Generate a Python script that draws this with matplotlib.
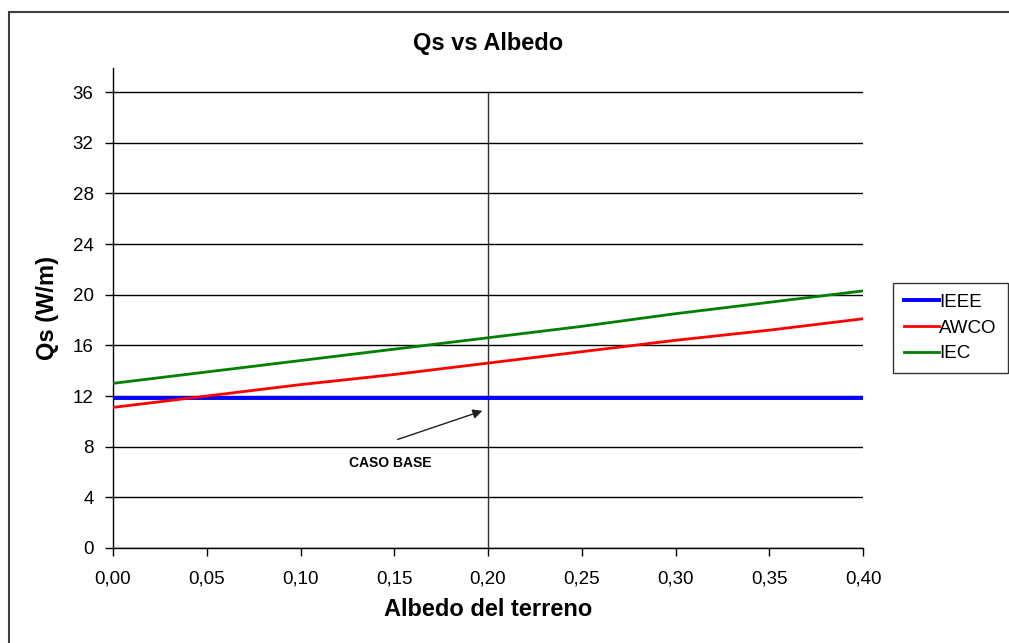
import matplotlib.pyplot as plt
from matplotlib.patches import Rectangle

plt.rcParams['font.family'] = ['Liberation Sans', 'DejaVu Sans']

# Albedo values and heat gain (W/m) for each model
albedo = [0.00, 0.05, 0.10, 0.15, 0.20, 0.25, 0.30, 0.35, 0.40]
qs_ieee = [11.85, 11.85, 11.85, 11.85, 11.85, 11.85, 11.85, 11.85, 11.85]
qs_awco = [11.1, 12.0, 12.9, 13.7, 14.6, 15.5, 16.4, 17.2, 18.1]
qs_iec = [13.0, 13.9, 14.8, 15.7, 16.6, 17.5, 18.5, 19.4, 20.3]

x_ticks = [0.00, 0.05, 0.10, 0.15, 0.20, 0.25, 0.30, 0.35, 0.40]
x_ticklabels = ['0,00', '0,05', '0,10', '0,15', '0,20', '0,25', '0,30', '0,35', '0,40']
y_ticks = [0, 4, 8, 12, 16, 20, 24, 28, 32, 36]

caso_base = 0.20

fig = plt.figure(figsize=(10.09, 6.43), dpi=100)
ax = fig.add_axes([113 / 1009, 1 - 548 / 643, 750 / 1009, 480 / 643])

# chart area border
fig.patches.append(Rectangle((9 / 1009, -0.1), 1.2, 1 - 12 / 643 + 0.1,
                             transform=fig.transFigure, fill=False,
                             edgecolor='#404040', linewidth=1.5))

for y in y_ticks:
    ax.axhline(y, color='black', linewidth=1.0, zorder=1)

ax.plot([caso_base, caso_base], [0, 36], color='#303030', linewidth=1.0, zorder=2)

ax.plot(albedo, qs_ieee, color='#0000ff', linewidth=2.8, label='IEEE', zorder=3)
ax.plot(albedo, qs_awco, color='#ff0000', linewidth=2.0, label='AWCO', zorder=3)
ax.plot(albedo, qs_iec, color='#008000', linewidth=2.0, label='IEC', zorder=3)

ax.set_xlim(0, 0.40)
ax.set_ylim(0, 37.9)
ax.set_xticks(x_ticks)
ax.set_xticklabels(x_ticklabels)
ax.set_yticks(y_ticks)
ax.tick_params(axis='both', labelsize=13.5, length=6, width=1.0, direction='out')
ax.tick_params(axis='x', pad=10)
ax.tick_params(axis='y', pad=8)
for side in ['top', 'right']:
    ax.spines[side].set_visible(False)
ax.spines['left'].set_linewidth(1.0)
ax.spines['bottom'].set_linewidth(1.0)

ax.set_title('Qs vs Albedo', fontsize=17, fontweight='bold', pad=13)
ax.set_xlabel('Albedo del terreno', fontsize=17, fontweight='bold', labelpad=8)
ax.set_ylabel('Qs (W/m)', fontsize=17, fontweight='bold', labelpad=10)

ax.annotate('', xy=(0.1984, 10.9), xytext=(0.1504, 8.5),
            arrowprops=dict(arrowstyle='-|>', color='#202020', lw=1.0,
                            mutation_scale=14))
ax.text(0.148, 6.7, 'CASO BASE', fontsize=10, fontweight='bold',
        ha='center', va='center')

fig.legend(loc='center left', bbox_to_anchor=(893 / 1009, 1 - 328 / 643),
           frameon=True, fancybox=False, edgecolor='black', fontsize=13.5,
           handlelength=1.85, handletextpad=0.0, borderpad=0.6,
           labelspacing=0.45, borderaxespad=0)

fig.savefig('out.png', dpi=100)
